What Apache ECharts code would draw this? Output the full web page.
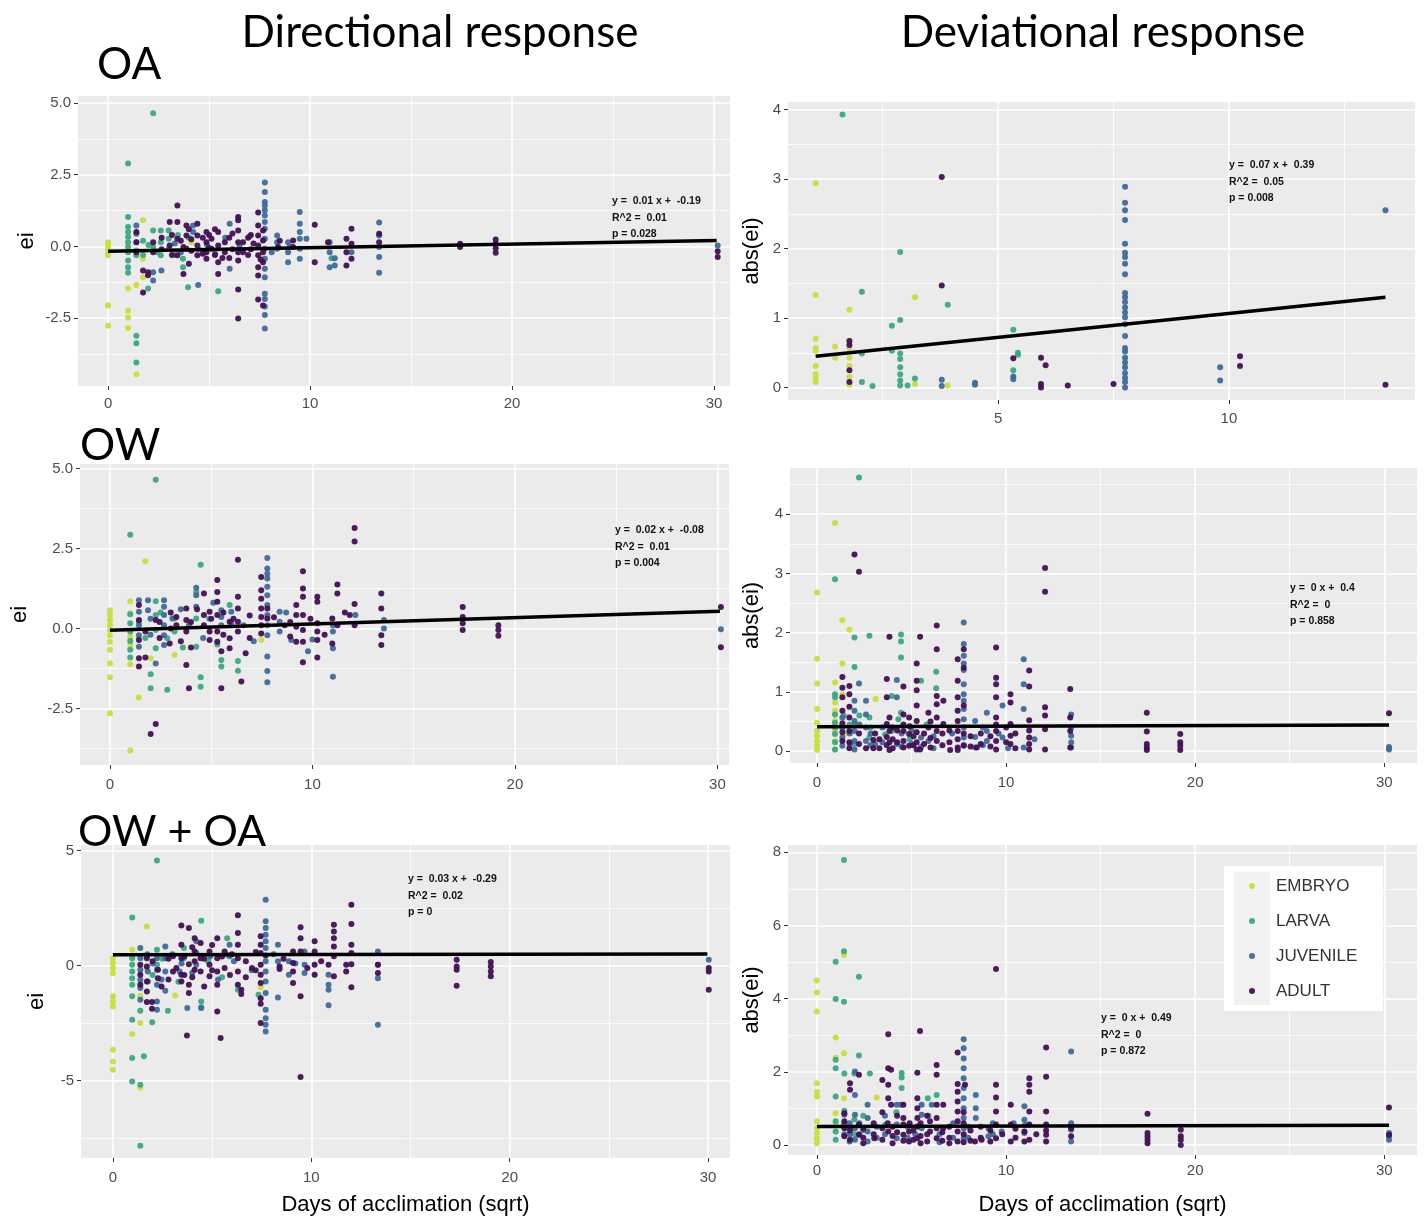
<!DOCTYPE html>
<html><head><meta charset="utf-8">
<script src="https://cdn.jsdelivr.net/npm/echarts@6/dist/echarts.min.js"></script>
<style>html,body{margin:0;padding:0;background:#fff}#c{width:1426px;height:1218px}</style>
</head><body><div id="c"></div>
<script>
// ---------- categories ----------
const stages = ['EMBRYO', 'LARVA', 'JUVENILE', 'ADULT'];
const stageColors = ['#c9de3a', '#3aa981', '#3e6b9a', '#450f56'];

// ---------- OA : directional (ei) ----------
const OA_dir_EMBRYO = [[0,0.15],[0,0.03],[0,-0.08],[0,-0.2],[0,-0.31],[0,-2.06],[0,-2.76],[0.99,-1.46],[0.99,-2.24],[0.99,-2.47],[0.99,-2.84],[1.4,-4.45],[1.4,-1.34],[1.73,0.91],[1.73,-0.43],[1.73,-1.07],[4.13,0.15]];
const OA_dir_LARVA = [[0.99,2.89],[0.99,1.03],[0.99,0.68],[0.99,0.5],[0.99,0.33],[0.99,0.15],[0.99,-0.02],[0.99,-0.2],[0.99,-0.49],[0.99,-0.72],[0.99,-0.92],[1.4,-3.11],[1.4,-3.37],[1.4,-4.04],[1.4,0.15],[1.4,-0.14],[1.4,-0.31],[2.23,4.64],[2.23,0.56],[2.23,-0.02],[1.98,-1.46],[2.61,0.56],[2.61,0.15],[2.61,-0.31],[3.0,0.56],[3.0,0.27],[3.0,-0.08],[3.71,-0.43],[3.71,-0.72],[3.96,-1.42],[5.45,-1.56],[11.06,-0.41],[1.73,0.2],[1.73,-0.3],[2.0,0.05],[2.45,-0.2],[3.3,-0.3],[3.46,0.4],[4.0,0.3],[4.5,-0.1]];
const OA_dir_JUVENILE = [[1.4,0.73],[1.4,0.44],[2.23,-0.9],[2.23,-1.19],[2.64,-0.84],[4.21,0.73],[4.21,0.5],[4.46,-1.34],[6.02,0.79],[6.02,-0.78],[7.76,2.23],[7.76,1.9],[7.76,1.55],[7.76,1.43],[7.76,1.26],[7.76,1.08],[7.76,0.85],[7.76,0.62],[7.76,0.27],[7.76,-0.08],[7.76,-0.43],[7.76,-0.78],[7.76,-1.07],[7.76,-1.65],[7.76,-1.83],[7.76,-2.09],[7.76,-2.39],[7.76,-2.86],[8.37,0.38],[8.37,0.15],[8.37,-0.08],[8.91,0.15],[8.91,-0.2],[8.91,-0.55],[9.49,1.2],[9.49,0.79],[9.49,0.5],[9.49,0.27],[9.49,-0.08],[9.49,-0.43],[9.82,0.27],[10.97,0.15],[10.97,-0.2],[10.97,-0.72],[11.22,-0.41],[11.22,-0.66],[12.05,-0.2],[13.42,0.83],[13.42,0.38],[13.42,-0.02],[13.42,-0.37],[13.42,-0.92],[30.18,0.03],[3.3,0.1],[3.6,-0.2],[4.9,0.05],[5.3,-0.25],[5.8,0.3],[6.5,0.0],[7.0,0.35],[8.1,-0.2],[9.0,0.0]];
const OA_dir_ADULT = [[1.4,0.5],[1.4,0.15],[1.4,-0.2],[1.73,-0.84],[1.73,-1.6],[1.98,-0.9],[1.98,-1.0],[2.23,0.15],[2.23,-0.2],[2.65,0.3],[2.65,-0.1],[3.05,0.85],[3.05,0.03],[3.16,0.4],[3.43,1.43],[3.43,0.85],[3.43,0.27],[3.43,-0.31],[3.73,-0.96],[3.73,-0.02],[3.88,0.73],[3.88,0.38],[3.88,-0.08],[4.0,0.6],[4.0,-0.6],[4.42,0.79],[4.42,0.38],[4.42,0.03],[4.42,-0.31],[4.69,0.3],[4.87,0.5],[4.87,0.15],[4.87,-0.2],[4.87,-0.43],[5.12,0.27],[5.12,-0.08],[5.29,-0.3],[5.29,0.6],[5.45,0.5],[5.45,0.03],[5.45,-0.55],[5.45,-0.96],[5.78,0.15],[5.78,-0.2],[6.0,0.3],[6.0,-0.4],[6.44,1.03],[6.44,0.91],[6.44,0.56],[6.44,0.15],[6.44,-0.2],[6.44,-0.49],[6.44,-1.5],[6.44,-2.51],[6.68,0.15],[6.68,-0.2],[7.07,-0.1],[7.07,0.4],[7.43,1.18],[7.43,0.73],[7.43,0.38],[7.43,0.03],[7.43,-0.31],[7.43,-0.72],[7.43,-1.01],[7.43,-1.85],[7.67,0.56],[7.67,0.21],[7.67,-0.2],[7.67,-0.55],[7.67,-2.06],[8.42,-0.02],[9.16,0.21],[9.16,-0.02],[10.23,0.76],[10.23,-0.55],[10.89,0.15],[11.8,0.27],[11.8,-0.2],[11.8,-0.66],[12.05,0.62],[12.05,0.09],[12.05,-0.43],[13.42,0.44],[13.42,0.15],[17.43,0.09],[17.43,-0.02],[19.19,0.24],[19.19,0.09],[19.19,-0.06],[19.19,-0.22],[30.18,-0.17],[30.18,-0.37],[3.16,-0.3],[3.6,0.2],[4.12,-0.15],[4.12,0.25],[4.69,-0.25],[5.0,0.4],[5.0,-0.05],[5.66,-0.4],[6.16,0.45],[6.16,-0.1],[6.93,0.3],[6.93,-0.3],[7.2,0.1],[7.55,-0.45],[8.5,0.2]];
const OA_dir_fit = [[0,-0.17],[30.13,0.21]];
const OA_dir_note = ['y =  0.01 x +  -0.19', 'R^2 =  0.01', 'p = 0.028'];

// ---------- OA : deviational (abs(ei)) ----------
const OA_dev_EMBRYO = [[1.05,2.94],[1.05,1.33],[1.05,0.7],[1.05,0.57],[1.05,0.53],[1.05,0.31],[1.05,0.19],[1.05,0.14],[1.05,0.08],[1.47,0.59],[1.47,0.43],[1.78,1.12],[1.78,0.67],[1.78,0.57],[1.78,0.43],[1.78,0.31],[1.78,0.15],[1.78,0.04],[3.2,1.3],[3.2,0.05],[3.91,0.03]];
const OA_dev_LARVA = [[1.63,3.93],[2.05,1.38],[2.05,0.49],[2.05,0.08],[2.28,0.02],[2.7,0.89],[2.7,0.53],[2.88,1.95],[2.88,0.97],[2.88,0.49],[2.88,0.41],[2.88,0.29],[2.88,0.19],[2.88,0.1],[2.88,0.03],[3.04,0.03],[3.2,0.13],[3.91,1.19],[5.33,0.83],[5.33,0.25],[5.43,0.5],[5.43,0.47]];
const OA_dev_JUVENILE = [[3.78,0.11],[3.78,0.02],[4.5,0.07],[4.5,0.04],[5.33,0.16],[5.33,0.12],[7.75,2.89],[7.75,2.66],[7.75,2.55],[7.75,2.41],[7.75,2.07],[7.75,1.94],[7.75,1.88],[7.75,1.78],[7.75,1.63],[7.75,1.36],[7.75,1.3],[7.75,1.23],[7.75,1.15],[7.75,1.08],[7.75,1.01],[7.75,0.91],[7.75,0.74],[7.75,0.57],[7.75,0.52],[7.75,0.43],[7.75,0.36],[7.75,0.29],[7.75,0.21],[7.75,0.14],[7.75,0.08],[7.75,0],[9.81,0.29],[9.81,0.1],[13.39,2.55]];
const OA_dev_ADULT = [[1.78,0.67],[1.78,0.61],[1.78,0.25],[1.78,0.08],[3.78,3.03],[3.78,1.47],[5.33,0.42],[5.93,0.43],[5.93,0.05],[5.93,0],[6.03,0.32],[6.51,0.03],[7.5,0.05],[10.24,0.45],[10.24,0.31],[13.39,0.04]];
const OA_dev_fit = [[1.05,0.45],[13.39,1.30]];
const OA_dev_note = ['y =  0.07 x +  0.39', 'R^2 =  0.05', 'p = 0.008'];

// ---------- OW : directional ----------
const OW_dir_EMBRYO = [[0,0.57],[0,0.42],[0,0.26],[0,0.1],[0,-0.05],[0,-0.21],[0,-0.42],[0,-0.67],[0,-1.09],[0,-1.53],[0,-2.65],[1,0.85],[1,0.47],[1,-0.26],[1,-0.52],[1,-1.12],[1,-3.82],[1.42,-2.16],[1.42,-0.31],[1.75,2.1],[2.01,-0.93],[3.19,-0.83],[7.47,-0.36]];
const OW_dir_LARVA = [[1,0.44],[1,0.16],[1,-0.1],[1,-0.39],[1,-0.67],[1,-0.91],[1,2.93],[2.26,4.65],[2.26,0.85],[2.26,0.42],[2.26,-0.05],[2.26,-0.62],[2.01,-1.43],[2.01,-1.87],[2.83,-1.92],[2.83,-0.31],[3.19,0.31],[3.19,-0.1],[4.26,1.14],[4.26,0.31],[4.26,-0.57],[4.48,1.99],[4.48,-1.53],[4.48,-1.82],[5.5,-0.99],[5.5,-1.19],[5.91,0.73],[6.32,-1.02],[6.32,-1.32],[1.43,0.2],[1.75,-0.3],[2.5,0.5],[3.6,-0.6],[4.9,0.3],[5.3,-0.5]];
const OW_dir_JUVENILE = [[1.43,0.88],[1.43,0.52],[1.43,0.1],[1.43,-0.21],[1.43,-0.57],[1.88,0.88],[1.88,0.57],[2.26,-1.1],[2.67,0.88],[2.67,0.68],[2.67,0.42],[2.67,0.1],[2.67,-0.21],[2.67,-0.52],[3.08,0.31],[4.26,1.27],[4.26,1.04],[4.26,0.68],[5.5,0.57],[5.5,0.36],[5.5,0.1],[5.99,0.52],[5.99,0.16],[7.77,2.2],[7.77,1.87],[7.77,1.71],[7.77,1.56],[7.77,1.3],[7.77,1.04],[7.77,0.73],[7.77,0.42],[7.77,0.1],[7.77,-0.21],[7.77,-0.88],[7.77,-1.33],[7.77,-1.68],[8.38,0.52],[8.38,0.21],[8.38,-0.1],[8.95,-0.36],[9.78,-0.71],[11.01,0.1],[11.01,-0.1],[11.01,-0.62],[11.01,-1.51],[12.12,0.42],[13.53,0.26],[13.53,0],[30.17,-0.03],[2.0,0.3],[2.0,-0.2],[3.5,0.6],[3.9,0.1],[4.6,-0.3],[5.1,0.8],[6.6,0.1],[7.1,-0.4],[8.7,0.5],[10.0,-0.35]];
const OW_dir_ADULT = [[1.43,0.73],[1.43,0.26],[1.43,-0.36],[1.43,-0.93],[1.43,-1.19],[1.75,-0.91],[1.75,-0.1],[2.01,-3.3],[2.26,-2.99],[2.26,0.26],[2.95,-0.47],[3.28,0.36],[3.28,0.1],[3.77,0.62],[3.77,0.26],[3.77,-0.1],[3.77,-1.14],[3.9,-1.87],[4.64,1.09],[4.64,0.42],[4.64,0.1],[4.92,0.52],[4.92,-0.1],[4.92,-0.36],[5.3,1.51],[5.3,1.14],[5.3,0.83],[5.3,0.42],[5.3,-0.1],[5.3,-0.42],[5.5,-1.87],[5.5,-0.71],[5.91,0.21],[5.91,-0.31],[5.91,-0.62],[6.32,2.15],[6.32,0.99],[6.32,0.62],[6.32,0.21],[6.32,-0.1],[6.49,-1.66],[6.7,-0.78],[7.47,1.61],[7.47,1.19],[7.47,0.93],[7.47,0.62],[7.47,0.36],[7.47,0.1],[7.47,-0.16],[7.77,0.62],[7.77,0.31],[8.63,0.1],[9.2,0.73],[9.2,0.42],[9.2,0.05],[9.2,-0.42],[9.53,1.79],[9.53,1.25],[9.53,0.99],[9.53,0.42],[9.53,-0.05],[9.53,-0.42],[9.53,-1.06],[10.24,0.99],[10.24,0.83],[10.24,0.16],[10.24,-0.1],[10.24,-0.36],[10.24,-0.91],[10.98,0.31],[10.98,-0.47],[11.23,1.37],[11.23,1.09],[11.23,0.1],[11.84,0.42],[12.08,3.14],[12.08,2.72],[12.08,0.76],[12.08,0.1],[13.4,1.09],[13.4,0.62],[13.4,-0.21],[13.4,-0.52],[17.42,0.67],[17.42,0.36],[17.42,0.16],[17.42,-0.05],[19.18,0.1],[19.18,-0.05],[19.18,-0.23],[30.17,0.67],[30.17,-0.59],[2.45,0.2],[2.45,-0.3],[3.0,0.5],[3.0,0.0],[3.5,-0.4],[4.0,0.2],[4.0,-0.6],[4.3,0.6],[5.0,0.3],[5.6,0.5],[5.6,-0.2],[6.1,0.3],[6.9,0.4],[6.9,-0.3],[8.1,0.35],[8.9,0.2],[8.9,-0.25],[9.9,0.3],[10.6,-0.2],[11.6,0.5]];
const OW_dir_fit = [[0,-0.06],[30.12,0.54]];
const OW_dir_note = ['y =  0.02 x +  -0.08', 'R^2 =  0.01', 'p = 0.004'];

// ---------- OW : deviational ----------
const OW_dev_EMBRYO = [[0,2.68],[0,1.56],[0,1.14],[0,0.71],[0,0.48],[0,0.34],[0,0.26],[0,0.17],[0,0.09],[0,0.02],[0.95,3.85],[0.95,1.16],[0.95,0.82],[0.95,0.68],[0.95,0.51],[0.95,0.34],[0.95,0.17],[0.95,0.03],[1.34,2.21],[1.34,1.48],[1.34,0.96],[1.71,2.05],[3.1,0.88],[1.48,0.3]];
const OW_dev_LARVA = [[2.22,4.62],[0.95,2.9],[0.95,0.96],[0.95,0.91],[0.95,0.62],[0.95,0.48],[0.95,0.4],[0.95,0.29],[0.95,0.15],[0.95,0.03],[1.98,1.92],[1.98,1.42],[1.98,0.46],[1.98,0.12],[2.77,1.95],[2.77,0.57],[2.77,0.23],[3.95,0.93],[3.95,0.34],[4.44,1.97],[4.44,1.85],[4.44,1.58],[4.44,0.65],[4.3,0.54],[6.3,1.34],[6.3,1.06],[5.5,1.19],[1.41,0.6],[1.73,0.45],[2.24,0.6],[2.83,0.4],[3.6,0.28],[4.9,0.2],[5.8,0.45]];
const OW_dev_JUVENILE = [[1.34,0.57],[1.34,0.4],[1.34,0.23],[1.34,0.09],[1.98,0.85],[1.98,0.68],[1.98,0.51],[1.98,0.34],[1.98,0.17],[1.98,0.03],[2.22,1.14],[2.59,0.85],[2.59,0.62],[2.59,0.4],[2.59,0.17],[3.07,0.12],[4.22,1.2],[4.22,0.91],[4.22,0.12],[5.5,0.23],[5.5,0.07],[5.89,0.17],[7.76,2.17],[7.76,1.81],[7.76,1.61],[7.76,1.48],[7.76,1.37],[7.76,1.13],[7.76,0.96],[7.76,0.85],[7.76,0.71],[7.76,0.54],[7.76,0.4],[7.76,0.23],[7.76,0.09],[8.36,0.51],[8.36,0.24],[8.36,0.06],[8.98,0.65],[8.98,0.34],[8.98,0.17],[9.81,0.77],[9.81,0.23],[10.93,1.55],[10.93,1.13],[10.93,0.71],[10.93,0.06],[13.44,0.62],[13.44,0.4],[13.44,0.26],[13.44,0.15],[13.44,0.06],[30.25,0.07],[30.25,0.03],[1.73,0.3],[1.73,0.12],[2.24,0.45],[2.83,0.3],[2.83,0.1],[3.46,0.4],[3.46,0.15],[4.47,0.3],[4.47,0.08],[5.0,0.35],[5.0,0.12],[6.16,0.25],[6.16,0.05],[7.14,0.3],[8.77,0.4],[8.77,0.1],[9.6,0.3],[10.1,0.05],[11.5,0.2]];
const OW_dev_ADULT = [[1.34,1.25],[1.34,1.07],[1.34,0.91],[1.34,0.68],[1.34,0.47],[1.34,0.32],[1.34,0.17],[1.71,1.1],[1.71,0.96],[1.98,3.32],[2.22,3.03],[1.71,0.75],[1.71,0.57],[1.71,0.34],[1.71,0.15],[1.71,0.05],[2.98,0.19],[2.98,0.05],[3.69,1.22],[3.69,0.91],[3.69,0.46],[3.69,0.24],[3.83,1.93],[3.83,0.57],[3.83,0.34],[3.83,0.15],[4.57,1.09],[4.57,0.62],[4.57,0.34],[4.57,0.17],[4.57,0.06],[4.87,0.57],[4.87,0.29],[4.87,0.09],[5.27,1.48],[5.27,1.19],[5.27,1.03],[5.27,0.77],[5.27,0.51],[5.27,0.32],[5.27,0.15],[5.45,1.93],[5.45,0.03],[5.89,0.65],[5.89,0.4],[6.33,2.12],[6.33,1.72],[6.33,0.93],[6.33,0.79],[6.33,0.57],[6.33,0.34],[6.33,0.17],[6.68,0.85],[6.68,0.46],[7.04,0.02],[7.44,1.55],[7.44,1.19],[7.44,0.91],[7.44,0.68],[7.44,0.51],[7.44,0.34],[7.44,0.2],[7.44,0.06],[7.76,1.72],[7.76,1.41],[7.76,0.77],[8.45,0.06],[9.47,1.75],[9.47,1.24],[9.47,1.13],[9.47,0.91],[9.47,0.57],[9.47,0.34],[9.47,0.17],[9.47,0.03],[10.23,0.96],[10.23,0.82],[10.23,0.46],[10.23,0.26],[10.23,0.12],[11.22,1.36],[11.22,1.09],[11.22,0.52],[11.22,0.23],[11.22,0.03],[12.06,3.09],[12.06,2.69],[12.06,0.74],[12.06,0.6],[12.06,0.37],[12.06,0.03],[13.39,1.05],[13.39,0.57],[13.39,0.34],[13.39,0.06],[17.44,0.65],[17.44,0.33],[17.44,0.12],[17.44,0.06],[17.44,0.02],[19.21,0.29],[19.21,0.15],[19.21,0.09],[19.21,0.02],[30.25,0.64],[2.22,0.3],[2.22,0.12],[2.59,0.05],[3.07,0.3],[3.3,0.2],[3.3,0.05],[3.69,0.1],[3.83,0.02],[4.0,0.4],[4.0,0.2],[4.0,0.05],[4.24,0.35],[4.24,0.15],[4.57,0.45],[4.9,0.42],[5.1,0.25],[5.1,0.1],[5.27,0.03],[5.66,0.3],[5.66,0.12],[6.0,0.5],[6.0,0.22],[6.0,0.06],[6.63,0.3],[6.63,0.1],[7.0,0.35],[7.0,0.15],[7.44,0.02],[7.76,0.3],[7.76,0.1],[8.12,0.25],[8.12,0.08],[8.66,0.3],[8.66,0.12],[9.17,0.25],[9.17,0.08],[9.47,0.45],[10.0,0.4],[10.0,0.15],[10.49,0.3],[10.49,0.05],[11.22,0.35],[11.22,0.12]];
const OW_dev_fit = [[0,0.41],[30.25,0.44]];
const OW_dev_note = ['y =  0 x +  0.4', 'R^2 =  0', 'p = 0.858'];

// ---------- OW + OA : directional ----------
const OWOA_dir_EMBRYO = [[0,0.33],[0,0.12],[0,-0.1],[0,-0.32],[0,-1.33],[0,-1.55],[0,-1.77],[0,-3.65],[0,-4.16],[0,-4.52],[0.97,0.7],[0.97,0.33],[0.97,-2.97],[1.38,-1.3],[1.38,-5.29],[1.38,-2.49],[1.71,1.71],[1.71,-0.17],[3.14,-1.29],[7.45,-0.93]];
const OWOA_dir_LARVA = [[0.97,2.1],[0.97,0.33],[0.97,0.04],[0.97,-0.25],[0.97,-0.54],[0.97,-0.83],[0.97,-1.33],[0.97,-2.35],[0.97,-4.01],[0.97,-5.03],[1.38,-1.96],[1.38,-5.17],[1.38,-7.83],[1.56,-3.94],[1.98,-2.46],[2.22,4.58],[2.22,0.7],[2.22,0.04],[2.77,-1.96],[3.58,0.77],[3.58,0.33],[4.45,1.96],[4.45,-1.55],[4.45,-1.81],[5.76,1.2],[5.76,0.48],[6.3,-1.04],[7.34,-1.26],[1.73,0.4],[2.0,-0.4],[2.5,0.3],[3.3,-0.7],[4.8,0.2],[5.5,-0.5]];
const OWOA_dir_JUVENILE = [[1.38,0.77],[1.38,0.33],[1.38,-0.17],[1.38,-0.61],[1.38,-0.97],[1.38,-1.48],[1.76,-0.25],[1.76,-0.68],[2.22,0.33],[2.22,-0.17],[2.22,-0.83],[2.22,-1.55],[2.22,-1.91],[2.64,0.84],[2.64,0.33],[2.64,-0.25],[2.64,-1.09],[3.36,-0.25],[3.75,-1.84],[4.2,1.06],[4.2,0.55],[4.2,0.04],[4.45,-1.84],[5.88,0.91],[5.88,0.41],[7.7,2.87],[7.7,1.93],[7.7,1.64],[7.7,1.35],[7.7,1.06],[7.7,0.77],[7.7,0.19],[7.7,-0.25],[7.7,-0.68],[7.7,-1.19],[7.7,-1.91],[7.7,-2.28],[7.7,-2.57],[7.7,-2.86],[8.32,0.91],[8.32,0.19],[8.32,-1.38],[8.87,0.19],[8.87,-0.39],[9.66,0.62],[9.66,0.04],[9.66,-0.32],[10.87,-0.39],[10.87,-0.83],[10.87,-1.04],[10.87,-1.72],[13.36,0.62],[13.36,0.04],[13.36,-0.54],[13.36,-2.57],[30.04,0.26],[1.73,0.5],[2.0,0.1],[2.45,-0.6],[3.0,0.5],[3.46,0.1],[4.0,-0.3],[4.9,0.4],[5.3,-0.6],[6.1,0.2],[7.0,-0.2],[8.1,0.5],[9.2,0.1]];
const OWOA_dir_ADULT = [[1.38,0.04],[1.38,-0.39],[1.38,-0.83],[1.71,0.33],[1.71,-0.03],[1.71,-0.68],[1.71,-1.12],[1.71,-1.58],[1.97,-1.58],[1.97,-1.87],[2.27,-0.17],[2.27,-0.54],[3.03,0.41],[3.03,-0.25],[3.45,1.75],[3.45,0.91],[3.45,0.33],[3.45,-0.39],[3.45,-0.68],[3.83,1.64],[3.83,0.07],[3.83,-0.83],[3.83,-1.19],[3.73,-3.03],[4.12,1.2],[4.12,0.62],[4.12,0.19],[4.12,-0.17],[4.42,0.99],[4.42,0.33],[4.42,-0.25],[4.87,0.62],[4.87,0.04],[4.87,-0.46],[5.26,1.2],[5.26,0.33],[5.26,-0.25],[5.26,-0.83],[5.26,-1.99],[5.43,-3.14],[5.63,0.62],[5.63,-0.1],[6.3,2.19],[6.3,1.42],[6.3,0.91],[6.3,0.33],[6.3,-0.25],[6.3,-0.83],[6.47,-1.04],[6.47,-1.23],[7.01,-0.1],[7.45,1.28],[7.45,0.91],[7.45,0.55],[7.45,0.04],[7.45,-0.39],[7.45,-0.75],[7.45,-1.41],[7.45,-1.65],[7.45,-2.49],[8.4,-0.03],[8.4,-0.14],[9.08,0.62],[9.08,0.12],[9.08,-0.25],[9.08,-0.75],[9.46,1.67],[9.46,1.2],[9.46,0.62],[9.46,-1.33],[9.46,-4.84],[10.17,1.06],[10.17,0.62],[10.17,0.04],[10.17,-0.39],[10.87,0.04],[11.14,1.78],[11.14,1.49],[11.14,1.2],[11.14,0.84],[11.14,0.41],[11.14,-0.46],[11.76,0.04],[11.76,-0.25],[12.02,2.65],[12.02,1.81],[12.02,0.91],[12.02,0.55],[12.02,0.07],[12.02,-0.94],[13.36,0.04],[13.36,-0.32],[17.33,0.26],[17.33,-0.03],[17.33,-0.17],[17.33,-0.87],[19.05,0.16],[19.05,-0.03],[19.05,-0.25],[19.05,-0.46],[30.04,-0.1],[30.04,-0.25],[30.04,-1.04],[2.0,0.2],[2.45,-0.9],[2.8,0.3],[2.8,-0.6],[3.2,-0.1],[3.6,0.4],[3.6,-0.4],[4.0,0.8],[4.0,-0.5],[4.6,0.3],[4.6,-0.9],[5.0,0.9],[5.0,-0.2],[5.5,0.4],[5.9,-0.4],[6.0,0.5],[6.7,0.2],[6.7,-0.5],[7.2,0.6],[7.2,-0.2],[7.7,0.45],[8.6,0.3],[9.8,-0.1],[10.5,0.2]];
const OWOA_dir_fit = [[0,0.48],[29.97,0.51]];
const OWOA_dir_note = ['y =  0.03 x +  -0.29', 'R^2 =  0.02', 'p = 0'];

// ---------- OW + OA : deviational ----------
const OWOA_dev_EMBRYO = [[0,4.5],[0,4.17],[0,3.65],[0,1.69],[0,1.45],[0,1.33],[0,0.65],[0,0.46],[0,0.33],[0,0.19],[0,0.05],[0.99,2.94],[0.99,2.39],[0.99,0.87],[0.99,0.6],[0.99,0.37],[1.43,5.2],[1.43,2.51],[1.43,1.28],[3.16,1.3]];
const OWOA_dev_LARVA = [[1.43,7.79],[1.43,5.3],[1.43,3.92],[0.99,5.01],[0.99,3.99],[0.99,2.33],[0.99,2.1],[0.99,1.33],[0.99,0.65],[0.99,0.37],[0.99,0.15],[2.22,4.6],[2.22,2.45],[1.98,1.96],[2.8,1.96],[1.45,1.96],[1.45,0.94],[4.48,1.97],[4.48,1.85],[4.48,1.56],[5.86,1.28],[6.33,1.37],[1.45,0.6],[1.45,0.3],[1.75,0.45],[1.98,0.7],[1.98,0.3],[2.45,0.8],[2.45,0.4],[3.6,0.55],[4.2,0.9],[5.3,0.5],[5.9,0.8]];
const OWOA_dev_JUVENILE = [[1.45,0.83],[1.45,0.56],[1.45,0.28],[2.01,2.01],[2.01,1.37],[2.01,0.83],[2.01,0.46],[2.01,0.15],[2.68,1.1],[2.68,0.74],[2.68,0.37],[2.68,0.1],[4.22,1.1],[4.22,0.56],[4.22,0.19],[4.44,1.1],[5.54,1.1],[5.54,0.83],[5.54,0.46],[6.07,1.1],[7.76,2.89],[7.76,2.65],[7.76,2.37],[7.76,2.1],[7.76,1.83],[7.76,1.56],[7.76,1.28],[7.76,1.01],[7.76,0.74],[7.76,0.46],[7.76,0.19],[8.4,1.37],[8.4,1.01],[8.4,0.74],[9.07,0.46],[9.07,0.24],[9.77,0.37],[10.97,1.06],[10.97,0.69],[10.97,0.33],[13.44,2.56],[13.44,0.6],[13.44,0.42],[13.44,0.1],[30.25,0.33],[30.25,0.24],[30.25,0.15],[1.73,0.6],[1.73,0.3],[1.73,0.1],[2.24,0.6],[2.24,0.3],[3.16,0.5],[3.16,0.2],[3.6,0.8],[3.6,0.3],[4.8,0.5],[4.8,0.2],[5.2,0.3],[6.48,0.3],[6.48,0.08],[7.2,0.6],[7.2,0.2],[8.0,0.5],[8.0,0.2],[9.3,0.6],[9.3,0.3],[10.4,0.6],[11.0,0.55]];
const OWOA_dev_ADULT = [[1.45,0.87],[1.45,0.65],[1.45,0.46],[1.45,0.24],[1.75,1.69],[1.75,1.51],[2.22,1.92],[2.22,0.56],[2.22,0.28],[3.03,0.19],[3.46,1.78],[3.46,0.9],[3.46,0.46],[3.77,3.03],[3.77,2.1],[3.77,1.65],[3.77,1.28],[3.77,0.37],[3.92,2.06],[3.92,1.1],[4.57,1.1],[4.57,0.74],[4.57,0.56],[4.57,0.28],[4.87,0.37],[4.87,0.1],[5.31,1.98],[5.31,1.28],[5.31,1.01],[5.31,0.74],[5.31,0.51],[5.31,0.19],[5.45,3.12],[5.98,0.65],[5.98,0.37],[6.33,2.19],[6.33,1.92],[6.33,1.1],[6.33,0.74],[6.33,0.46],[6.33,0.19],[6.68,1.1],[6.68,0.46],[7.44,2.53],[7.44,1.67],[7.44,1.46],[7.44,1.19],[7.44,0.92],[7.44,0.65],[7.44,0.37],[7.44,0.1],[7.83,1.65],[8.36,0.1],[8.71,0.15],[9.47,4.81],[9.47,1.65],[9.47,1.3],[9.47,0.92],[9.47,0.56],[9.47,0.19],[10.25,1.1],[10.25,0.56],[10.25,0.1],[10.97,0.37],[10.97,0.1],[11.23,1.83],[11.23,1.65],[11.23,1.46],[11.23,0.92],[11.23,0.56],[11.23,0.15],[12.12,2.67],[12.12,1.87],[12.12,0.92],[12.12,0.56],[12.12,0.28],[12.12,0.1],[13.44,0.46],[13.44,0.24],[17.48,0.86],[17.48,0.33],[17.48,0.24],[17.48,0.15],[17.48,0.05],[19.24,0.42],[19.24,0.24],[19.24,0.15],[19.24,0],[30.25,1.03],[30.25,0.28],[1.75,0.4],[1.75,0.15],[2.45,0.45],[2.45,0.2],[2.45,0.05],[3.0,0.3],[3.0,0.6],[3.46,0.15],[3.74,0.6],[4.0,0.5],[4.0,0.25],[4.0,0.05],[4.24,0.8],[4.24,0.35],[4.57,0.12],[4.9,0.6],[5.1,0.4],[5.1,0.15],[5.48,0.6],[5.48,0.25],[5.48,0.05],[5.83,0.8],[5.83,0.3],[5.83,0.1],[6.63,0.35],[6.63,0.12],[7.0,0.5],[7.0,0.2],[7.0,0.05],[7.76,0.9],[7.76,0.6],[7.76,0.3],[7.76,0.08],[8.12,0.4],[8.12,0.12],[8.66,0.5],[8.66,0.2],[9.17,0.4],[9.17,0.1],[9.8,0.3],[10.5,0.2],[10.5,0.45],[11.6,0.3],[12.12,0.4]];
const OWOA_dev_fit = [[0,0.51],[30.25,0.54]];
const OWOA_dev_note = ['y =  0 x +  0.49', 'R^2 =  0', 'p = 0.872'];

// ---------- tick values ----------
const daysTicks = [0, 10, 20, 30];
const daysMinor = [5, 15, 25];
const oaDevXTicks = [5, 10];
const oaDevXMinor = [2.5, 7.5, 12.5];
const dirYTicks = [-2.5, 0, 2.5, 5];
const dirYMinor = [-3.75, -1.25, 1.25, 3.75];
const owoaDirYTicks = [-5, 0, 5];
const owoaDirYMinor = [-7.5, -2.5, 2.5];
const devYTicks = [0, 1, 2, 3, 4];
const devYMinor = [0.5, 1.5, 2.5, 3.5, 4.5];
const owoaDevYTicks = [0, 2, 4, 6, 8];
const owoaDevYMinor = [1, 3, 5, 7];

const xTitle = 'Days of acclimation (sqrt)';

// ---------- layout (positions only) ----------
const panels = [
  { g:{left:78, top:96, width:652, height:290}, xr:[-1.49,30.79], yr:[-4.86,5.24], xt:daysTicks, xm:daysMinor, yt:dirYTicks, ym:dirYMinor, dig:1, yn:'ei', yg:40, lm:10,
    d:[OA_dir_EMBRYO, OA_dir_LARVA, OA_dir_JUVENILE, OA_dir_ADULT], fit:OA_dir_fit, note:OA_dir_note, np:[612,193] },
  { g:{left:788, top:102, width:627, height:298}, xr:[0.45,14.03], yr:[-0.18,4.11], xt:oaDevXTicks, xm:oaDevXMinor, yt:devYTicks, ym:devYMinor, dig:0, yn:'abs(ei)', yg:25, lm:11,
    d:[OA_dev_EMBRYO, OA_dev_LARVA, OA_dev_JUVENILE, OA_dev_ADULT], fit:OA_dev_fit, note:OA_dev_note, np:[1229,157] },
  { g:{left:80, top:464, width:649, height:301}, xr:[-1.48,30.57], yr:[-4.27,5.14], xt:daysTicks, xm:daysMinor, yt:dirYTicks, ym:dirYMinor, dig:1, yn:'ei', yg:49, lm:12,
    d:[OW_dir_EMBRYO, OW_dir_LARVA, OW_dir_JUVENILE, OW_dir_ADULT], fit:OW_dir_fit, note:OW_dir_note, np:[615,522] },
  { g:{left:790, top:468, width:627, height:295}, xr:[-1.43,31.73], yr:[-0.2,4.78], xt:daysTicks, xm:daysMinor, yt:devYTicks, ym:devYMinor, dig:0, yn:'abs(ei)', yg:27, lm:12,
    d:[OW_dev_EMBRYO, OW_dev_LARVA, OW_dev_JUVENILE, OW_dev_ADULT], fit:OW_dev_fit, note:OW_dev_note, np:[1290,580] },
  { g:{left:81, top:845, width:649, height:313}, xr:[-1.61,31.11], yr:[-8.36,5.25], xt:daysTicks, xm:daysMinor, yt:owoaDirYTicks, ym:owoaDirYMinor, dig:0, yn:'ei', yg:33, lm:12, xn:xTitle, xg:36,
    d:[OWOA_dir_EMBRYO, OWOA_dir_LARVA, OWOA_dir_JUVENILE, OWOA_dir_ADULT], fit:OWOA_dir_fit, note:OWOA_dir_note, np:[408,871] },
  { g:{left:788, top:845, width:629, height:310}, xr:[-1.53,31.73], yr:[-0.27,8.2], xt:daysTicks, xm:daysMinor, yt:owoaDevYTicks, ym:owoaDevYMinor, dig:0, yn:'abs(ei)', yg:25, lm:8, xn:xTitle, xg:39,
    d:[OWOA_dev_EMBRYO, OWOA_dev_LARVA, OWOA_dev_JUVENILE, OWOA_dev_ADULT], fit:OWOA_dev_fit, note:OWOA_dev_note, np:[1101,1010] }
];

const FONT = '"Liberation Sans", Arial, sans-serif';
const TITLE_FONT = 'Lato, "Open Sans", sans-serif';

const grid = [], xAxis = [], yAxis = [], series = [], graphic = [];
panels.forEach((p, i) => {
  grid.push(Object.assign({ show:true, backgroundColor:'#ebebeb', borderWidth:0 }, p.g));
  const tickStyle = { show:true, length:4, lineStyle:{ color:'#333', width:1 } };
  xAxis.push({
    type:'value', gridIndex:i, min:p.xr[0], max:p.xr[1], position:'bottom',
    axisLine:{ show:false, onZero:false },
    axisTick:Object.assign({ customValues:p.xt }, tickStyle),
    axisLabel:{ customValues:p.xt, color:'#4d4d4d', fontSize:15, fontFamily:FONT, margin:p.lm },
    splitLine:{ show:true, lineStyle:{ color:'#ffffff', width:1.6 } },
    name:p.xn || '', nameLocation:'middle', nameGap:p.xg || 36,
    nameTextStyle:{ fontSize:22, color:'#000', fontFamily:FONT }
  });
  xAxis.push({
    type:'value', gridIndex:i, min:p.xr[0], max:p.xr[1], position:'top',
    axisLine:{ show:false, onZero:false }, axisTick:{ show:false, customValues:p.xm },
    axisLabel:{ show:false, customValues:p.xm },
    splitLine:{ show:true, lineStyle:{ color:'#ffffff', width:0.8 } }
  });
  yAxis.push({
    type:'value', gridIndex:i, min:p.yr[0], max:p.yr[1], position:'left',
    axisLine:{ show:false, onZero:false },
    axisTick:Object.assign({ customValues:p.yt }, tickStyle),
    axisLabel:{ customValues:p.yt, color:'#4d4d4d', fontSize:15, fontFamily:FONT, margin:7,
      formatter:(v) => Number(v).toFixed(p.dig) },
    splitLine:{ show:true, lineStyle:{ color:'#ffffff', width:1.6 } },
    name:p.yn, nameLocation:'middle', nameGap:p.yg,
    nameTextStyle:{ fontSize:22, color:'#000', fontFamily:FONT }
  });
  yAxis.push({
    type:'value', gridIndex:i, min:p.yr[0], max:p.yr[1], position:'right',
    axisLine:{ show:false, onZero:false }, axisTick:{ show:false, customValues:p.ym },
    axisLabel:{ show:false, customValues:p.ym },
    splitLine:{ show:true, lineStyle:{ color:'#ffffff', width:0.8 } }
  });
  p.d.forEach((arr, k) => {
    series.push({
      type:'scatter', name:stages[k], xAxisIndex:2*i, yAxisIndex:2*i, data:arr,
      symbol:'circle', symbolSize:6, itemStyle:{ color:stageColors[k], opacity:0.95 }, z:2
    });
  });
  series.push({
    type:'line', name:'fit', xAxisIndex:2*i, yAxisIndex:2*i, data:p.fit,
    symbol:'none', lineStyle:{ color:'#000', width:3.5 }, z:3, silent:true
  });
  graphic.push({
    type:'text', left:p.np[0], top:p.np[1], z:6,
    style:{ text:p.note.join('\n'), font:'bold 10.5px ' + FONT, fill:'#111', lineHeight:16.5 }
  });
});

// titles and panel labels
graphic.push({ type:'text', x:440, y:33, z:6, style:{ text:'Directional response', font:'44px ' + TITLE_FONT, fill:'#000', align:'center', verticalAlign:'middle' } });
graphic.push({ type:'text', x:1103, y:33, z:6, style:{ text:'Deviational response', font:'44px ' + TITLE_FONT, fill:'#000', align:'center', verticalAlign:'middle' } });
graphic.push({ type:'text', x:97, y:65, z:6, style:{ text:'OA', font:'44px ' + TITLE_FONT, fill:'#000', verticalAlign:'middle' } });
graphic.push({ type:'text', x:80, y:446, z:6, style:{ text:'OW', font:'44px ' + TITLE_FONT, fill:'#000', verticalAlign:'middle' } });
graphic.push({ type:'text', x:78, y:832, z:6, style:{ text:'OW + OA', font:'43px ' + TITLE_FONT, fill:'#000', verticalAlign:'middle' } });
// legend background box + key strip
graphic.push({ type:'rect', shape:{ x:1224, y:866, width:159, height:145 }, style:{ fill:'#ffffff' }, z:3 });
graphic.push({ type:'rect', shape:{ x:1234, y:872, width:36, height:133 }, style:{ fill:'#f2f2f2' }, z:3 });

const chart = echarts.init(document.getElementById('c'), null, { renderer:'canvas' });
chart.setOption({
  animation:false,
  backgroundColor:'#ffffff',
  grid, xAxis, yAxis, series, graphic,
  legend:{
    data:stages, orient:'vertical', left:1224, top:866, padding:[10,26,10,25],
    itemGap:15, itemWidth:38, itemHeight:6, icon:'circle', selectedMode:false,
    textStyle:{ fontSize:17, color:'#333', fontFamily:FONT, lineHeight:20 }, z:4
  }
});
</script>
</body></html>
